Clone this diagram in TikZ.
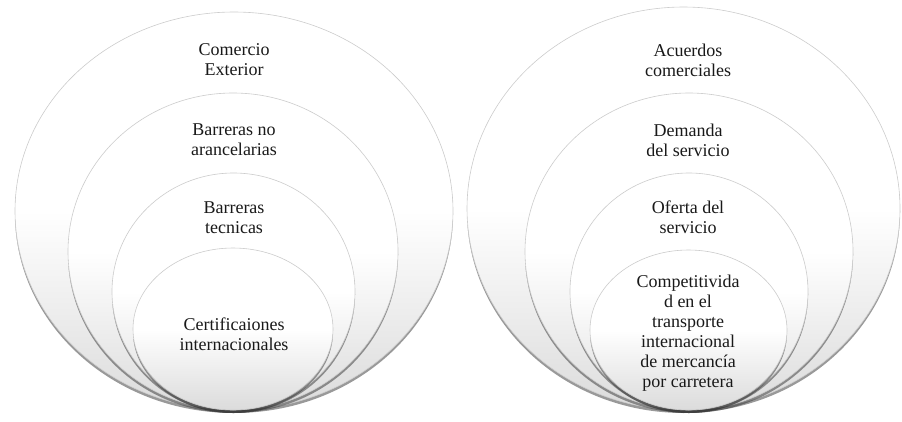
\documentclass[tikz,border=0pt]{standalone}
\usepackage{fontspec}
\setmainfont{Liberation Serif}
\usetikzlibrary{shapes.geometric,shadows}
\begin{document}
\begin{tikzpicture}[x=1pt,y=-1pt,
  ring/.style={ellipse, draw=black!20, line width=0.6pt, inner sep=0pt,
    top color=white, bottom color=black!14, middle color=white,
    drop shadow={shadow xshift=0pt, shadow yshift=-3pt, opacity=0.5, fill=black!80}},
  lbl/.style={align=center, font=\fontsize{18}{20}\selectfont, text=black!90, inner sep=0pt}]
\useasboundingbox (0,0) rectangle (902,421);
% left group
\node[ring, minimum width=438pt, minimum height=398pt] (a1) at (234,211) {};
\node[ring, minimum width=330pt, minimum height=317pt] (a2) at (233,251.5) {};
\node[ring, minimum width=243pt, minimum height=237pt] (a3) at (233.5,291.5) {};
\node[ring, minimum width=200pt, minimum height=162pt] (a4) at (233,329) {};
% right group
\node[ring, minimum width=433pt, minimum height=403pt] (b1) at (683.5,208.5) {};
\node[ring, minimum width=328pt, minimum height=317pt] (b2) at (689,251.5) {};
\node[ring, minimum width=238pt, minimum height=237pt] (b3) at (689,291.5) {};
\node[ring, minimum width=197pt, minimum height=160pt] (b4) at (688.5,330) {};
% labels
\node[lbl] (ta1) at (234,60) {Comercio\\Exterior};
\node[lbl] (ta2) at (234,140) {Barreras no\\arancelarias};
\node[lbl] (ta3) at (234,217.5) {Barreras\\tecnicas};
\node[lbl] (ta4) at (234,334) {Certificaiones\\internacionales};
\node[lbl] (tb1) at (688,60) {Acuerdos\\comerciales};
\node[lbl] (tb2) at (688,140) {Demanda\\del servicio};
\node[lbl] (tb3) at (688,217.5) {Oferta del\\servicio};
\node[lbl] (tb4) at (688,333) {Competitivida\\d en el\\transporte\\internacional\\de mercancía\\por carretera};
\end{tikzpicture}
\end{document}
